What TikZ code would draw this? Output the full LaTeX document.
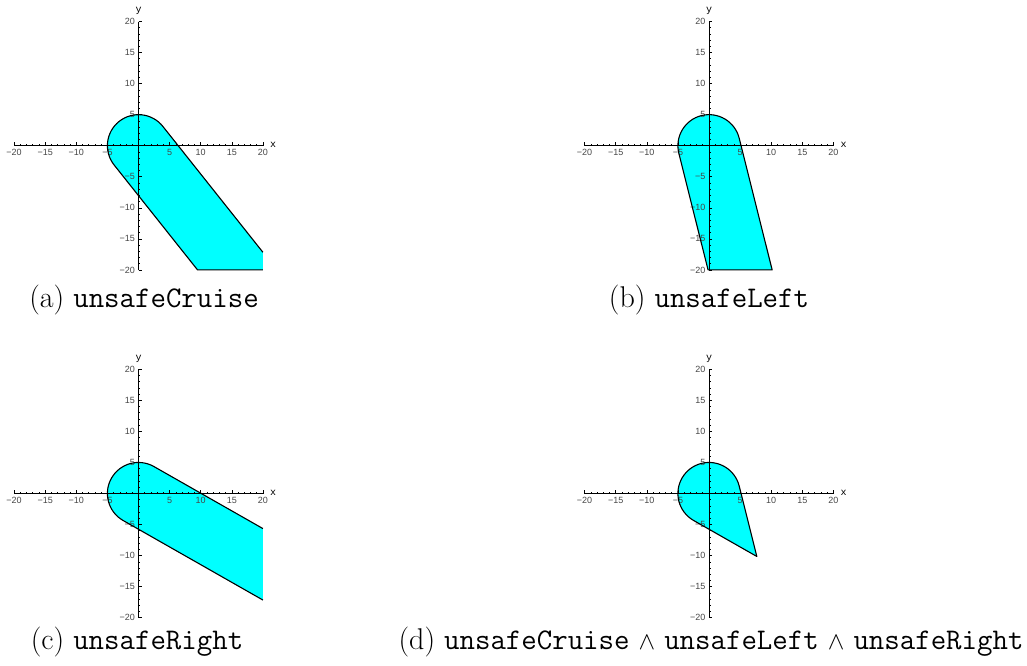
\documentclass[tikz,border=0pt]{standalone}
\usepackage{fontspec}
\newfontfamily\tickfont{Liberation Sans}
\newfontfamily\axfont{Liberation Mono}
\definecolor{aqua}{RGB}{0,255,255}
\definecolor{ticktext}{RGB}{70,70,70}
\tikzset{
  region/.style={fill=aqua},
  outline/.style={draw=black, line width=1.1pt, line join=round},
  axline/.style={draw=black, line width=0.8pt},
  tickmark/.style={draw=black, line width=0.6pt},
  ticklbl/.style={font=\tickfont\fontsize{9}{10}\selectfont, text=ticktext, inner sep=0pt},
  axlbl/.style={font=\axfont\fontsize{10}{11}\selectfont, inner sep=0pt},
  capt/.style={font=\fontsize{30}{34}\selectfont, anchor=base, inner sep=0pt},
  plotframe/.style={x=6.22pt, y=6.21pt}
}
\newcommand\mkaxes[1]{%
  \draw[axline] (-20,0) -- (20,0);
  \draw[axline] (0,-20) -- (0,20);
  \foreach \i in {-20,...,-1,1,2,...,20}{
    \draw[tickmark] (\i,0) -- ++(0pt,1.7pt);
    \draw[tickmark] (0,\i) -- ++(1.7pt,0pt);
  }
  \foreach \i in {-20,-15,-10,-5,5,10,15,20}{
    \draw[tickmark] (\i,0) -- ++(0pt,3.4pt);
    \draw[tickmark] (0,\i) -- ++(3.4pt,0pt);
  }
  \foreach \v/\t in {-20/−20,-15/−15,-10/−10,-5/−5,5/5,10/10,15/15,20/20}{
    \node[ticklbl, anchor=north] (#1x\v) at ([yshift=-3.5pt]\v,0) {\t};
    \node[ticklbl, anchor=east] (#1y\v) at ([xshift=-3.5pt]0,\v) {\t};
  }
  \node[axlbl, anchor=west] (#1xl) at ([xshift=7pt,yshift=1pt]20,0) {x};
  \node[axlbl, anchor=south] (#1yl) at ([yshift=7pt]0,20) {y};
}
\begin{document}
\begin{tikzpicture}[x=1pt,y=1pt]
\useasboundingbox (0,0) rectangle (1027,-665);

% (a) unsafeCruise
\begin{scope}[shift={(138.5,-145.7)}, plotframe]
  \fill[region] (20,-17.158) -- (3.916,3.108) arc[start angle=38.44, end angle=218.44, radius=5]
     -- (9.49,-20) -- (20,-20) -- cycle;
  \mkaxes{a}
  \draw[outline] (20,-17.158) -- (3.916,3.108) arc[start angle=38.44, end angle=218.44, radius=5]
     -- (9.49,-20) -- (20,-20);
\end{scope}

% (b) unsafeLeft
\begin{scope}[shift={(709,-145.7)}, plotframe]
  \fill[region] (10.154,-20) -- (4.851,1.213) arc[start angle=14.04, end angle=194.04, radius=5]
     -- (-0.154,-20) -- cycle;
  \mkaxes{b}
  \draw[outline] (10.154,-20) -- (4.851,1.213) arc[start angle=14.04, end angle=194.04, radius=5]
     -- (-0.154,-20) -- cycle;
\end{scope}

% (c) unsafeRight
\begin{scope}[shift={(138.5,-493.5)}, plotframe]
  \fill[region] (20,-5.645) -- (2.476,4.344) arc[start angle=60.32, end angle=240.32, radius=5]
     -- (20,-17.155) -- cycle;
  \mkaxes{c}
  \draw[outline] (20,-5.645) -- (2.476,4.344) arc[start angle=60.32, end angle=240.32, radius=5]
     -- (20,-17.155);
\end{scope}

% (d) intersection
\begin{scope}[shift={(709,-493.5)}, plotframe]
  \fill[region] (4.851,1.213) arc[start angle=14.04, end angle=240.32, radius=5]
     -- (7.688,-10.137) -- cycle;
  \mkaxes{d}
  \draw[outline] (4.851,1.213) arc[start angle=14.04, end angle=240.32, radius=5]
     -- (7.688,-10.137) -- cycle;
\end{scope}

\node[capt] (capa) at (144,-307) {(a) \texttt{unsafeCruise}};
\node[capt] (capb) at (709,-307) {(b) \texttt{unsafeLeft}};
\node[capt] (capc) at (137,-649) {(c) \texttt{unsafeRight}};
\node[capt] (capd) at (711,-649) {(d) \texttt{unsafeCruise} $\wedge$ \texttt{unsafeLeft} $\wedge$ \texttt{unsafeRight}};
\end{tikzpicture}
\end{document}
